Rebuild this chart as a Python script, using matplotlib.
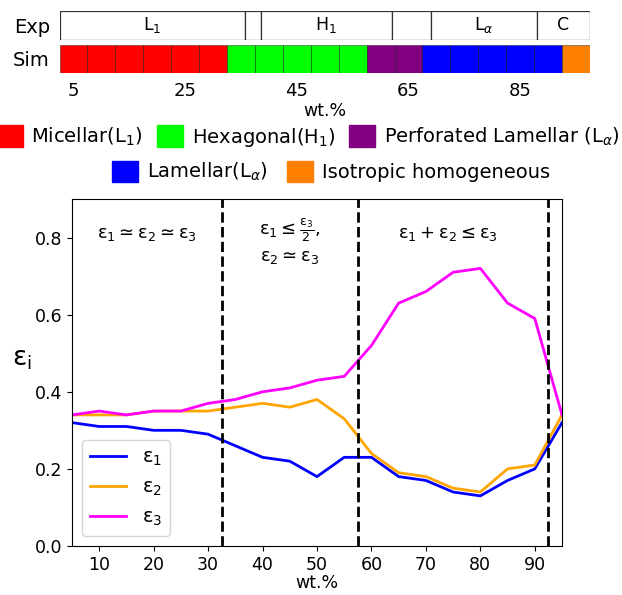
import matplotlib
matplotlib.use("Agg")
import matplotlib.pyplot as plt
from matplotlib.patches import Patch

# composition grid (wt.%)
wt = [5, 10, 15, 20, 25, 30, 35, 40, 45, 50, 55, 60, 65, 70, 75, 80, 85, 90, 95]

# strain components
eps1 = [0.32, 0.31, 0.31, 0.30, 0.30, 0.29, 0.26, 0.23, 0.22, 0.18,
        0.23, 0.23, 0.18, 0.17, 0.14, 0.13, 0.17, 0.20, 0.32]
eps2 = [0.34, 0.34, 0.34, 0.35, 0.35, 0.35, 0.36, 0.37, 0.36, 0.38,
        0.33, 0.24, 0.19, 0.18, 0.15, 0.14, 0.20, 0.21, 0.34]
eps3 = [0.34, 0.35, 0.34, 0.35, 0.35, 0.37, 0.38, 0.40, 0.41, 0.43,
        0.44, 0.52, 0.63, 0.66, 0.71, 0.72, 0.63, 0.59, 0.34]

# simulated phase at each composition
sim_phase = ['L1'] * 6 + ['H1'] * 5 + ['PL'] * 2 + ['La'] * 5 + ['Iso']

# experimental phase regions
exp_bounds = [2.5, 35.7, 38.6, 62.0, 69.0, 88.0, 97.5]
exp_labels = [r'L$_1$', '', r'H$_1$', '', r'L$_\alpha$', 'C']

phase_colors = {'L1': '#ff0000', 'H1': '#00ff00', 'PL': '#800080',
                'La': '#0000ff', 'Iso': '#ff8000'}
phase_names = {'L1': r'Micellar(L$_1$)', 'H1': r'Hexagonal(H$_1$)',
               'PL': r'Perforated Lamellar (L$_\alpha$)',
               'La': r'Lamellar(L$_\alpha$)', 'Iso': 'Isotropic homogeneous'}

E = r'\mathrm{\varepsilon}'
# regime boundaries and descriptions
regime_bounds = [32.5, 57.5, 92.5]
regime_text = [rf'${E}_1 \simeq {E}_2 \simeq {E}_3$',
               rf'${E}_1 \leq \frac{{{E}_3}}{{2}}$,' + '\n' + rf'${E}_2 \simeq {E}_3$',
               rf'${E}_1 + {E}_2 \leq {E}_3$']
regime_x = [18.75, 45, 74]
regime_y = [0.81, 0.79, 0.81]

fig = plt.figure(figsize=(6.22, 5.95), dpi=100)

# ---- phase bars ----
W, H = 622, 595
bar_left, bar_right = 59.5 / W, 590 / W
ax_exp = fig.add_axes([bar_left, 1 - 40 / H, bar_right - bar_left, 29.5 / H])
ax_sim = fig.add_axes([bar_left, 1 - 72.5 / H, bar_right - bar_left, 27.5 / H])

starts = exp_bounds[:-1]
widths = [b - a for a, b in zip(exp_bounds[:-1], exp_bounds[1:])]
ax_exp.bar(starts, 1, width=widths, align='edge', color='white',
           edgecolor='#333333', linewidth=0.9)
for s, w, lab in zip(starts, widths, exp_labels):
    ax_exp.text(s + w / 2, 0.5, lab, ha='center', va='center', fontsize=12.5)
ax_exp.set_xlim(2.5, 97.5)
ax_exp.set_ylim(0, 1)
ax_exp.set_xticks([])
ax_exp.set_yticks([0.5])
ax_exp.set_yticklabels(['Exp'], fontsize=14)
ax_exp.tick_params(axis='y', length=0, pad=7)
for sp in ax_exp.spines.values():
    sp.set_visible(False)

ax_sim.bar(wt, 1, width=5, align='center',
           color=[phase_colors[p] for p in sim_phase],
           edgecolor=(0, 0, 0, 0.45), linewidth=0.6)
ax_sim.set_xlim(2.5, 97.5)
ax_sim.set_ylim(0, 1)
ax_sim.set_xticks([5, 25, 45, 65, 85])
ax_sim.tick_params(axis='x', length=0, pad=7, labelsize=13)
ax_sim.set_yticks([0.5])
ax_sim.set_yticklabels(['Sim'], fontsize=14)
ax_sim.tick_params(axis='y', length=0, pad=7)
ax_sim.set_xlabel('wt.%', fontsize=12.5, labelpad=1)
for sp in ax_sim.spines.values():
    sp.set_visible(False)

# ---- phase legend ----
def phase_handles(keys):
    return [Patch(facecolor=phase_colors[k], edgecolor=phase_colors[k]) for k in keys]

row1 = ['L1', 'H1', 'PL']
row2 = ['La', 'Iso']
leg_kw = dict(frameon=False, fontsize=14, handlelength=1.35, handleheight=1.35,
              handletextpad=0.45, borderpad=0, borderaxespad=0, loc='center')
fig.legend(phase_handles(row1), [phase_names[k] for k in row1], ncol=3,
           columnspacing=0.7, bbox_to_anchor=(308 / W, 1 - 137 / H), **leg_kw)
fig.legend(phase_handles(row2), [phase_names[k] for k in row2], ncol=2,
           columnspacing=1.0, bbox_to_anchor=(331 / W, 1 - 172 / H), **leg_kw)

# ---- strain components ----
ax = fig.add_axes([72 / W, 1 - 546 / H, 490 / W, 347 / H])
ax.plot(wt, eps1, color='#0000ff', lw=2, label=rf'${E}_1$')
ax.plot(wt, eps2, color='orange', lw=2, label=rf'${E}_2$')
ax.plot(wt, eps3, color='#ff00ff', lw=2, label=rf'${E}_3$')
for xb in regime_bounds:
    ax.axvline(xb, color='black', ls='--', lw=2)
for tx, ty, t in zip(regime_x, regime_y, regime_text):
    ax.text(tx, ty, t, ha='center', va='center', fontsize=13)
ax.set_xlim(5, 95)
ax.set_ylim(0, 0.9)
ax.set_xticks([10, 20, 30, 40, 50, 60, 70, 80, 90])
ax.set_yticks([0.0, 0.2, 0.4, 0.6, 0.8])
ax.tick_params(labelsize=12.5)
ax.set_xlabel('wt.%', fontsize=12.5, labelpad=0)
ax.set_ylabel(rf'${E}_\mathrm{{i}}$', fontsize=19, rotation=0, labelpad=9)
ax.legend(loc='lower left', fontsize=14, handlelength=1.9, borderaxespad=0.5)

fig.savefig('out.png', dpi=100)
